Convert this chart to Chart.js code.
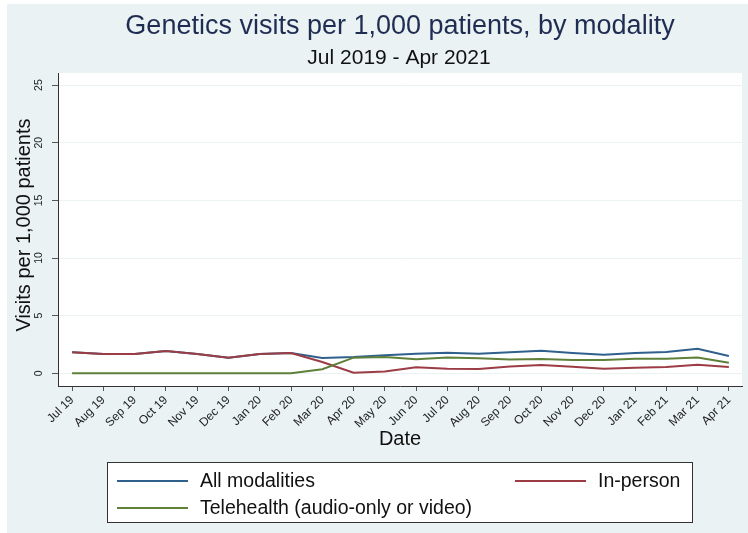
<!DOCTYPE html>
<html>
<head>
<meta charset="utf-8">
<title>Genetics visits per 1,000 patients</title>
<script src="https://cdn.jsdelivr.net/npm/chart.js@4/dist/chart.umd.min.js"></script>
<style>
  html, body { margin: 0; padding: 0; background: #fff; }
  canvas { display: block; }
</style>
</head>
<body>
<canvas id="chartVisitas" width="748" height="533"></canvas>
<script>
const months = ['Jul 19','Aug 19','Sep 19','Oct 19','Nov 19','Dec 19','Jan 20','Feb 20','Mar 20','Apr 20','May 20',
    'Jun 20','Jul 20','Aug 20','Sep 20','Oct 20','Nov 20','Dec 20','Jan 21','Feb 21','Mar 21','Apr 21']
const allModalities = [1.82,1.67,1.67,1.93,1.67,1.35,1.67,1.76,1.33,1.41,1.56,1.70,1.79,1.70,1.82,1.96,1.76,1.61,1.76,1.85,2.13,1.50]
const inPerson = [1.82,1.67,1.67,1.93,1.67,1.35,1.67,1.76,0.98,0.05,0.15,0.52,0.40,0.37,0.60,0.72,0.58,0.40,0.49,0.55,0.75,0.55]
const telehealth = [0,0,0,0,0,0,0,0,0.35,1.36,1.41,1.21,1.38,1.30,1.19,1.24,1.15,1.15,1.27,1.27,1.38,0.92]
const yTicks = [0, 5, 10, 15, 20, 25]

const FONT = "'Liberation Sans', Arial, sans-serif"
const BG = '#eaf2f3'

const canvas = document.getElementById('chartVisitas')
const context = canvas.getContext('2d')

// fondo estilo stata + titulos, ticks del eje y y leyenda
const stataPlugin = {
    id: 'stata',
    beforeDraw(chart) {
        const ctx = chart.ctx
        const a = chart.chartArea
        ctx.save()
        ctx.fillStyle = BG
        ctx.fillRect(7, 4, chart.width - 7, chart.height - 4)
        ctx.fillStyle = '#fff'
        ctx.fillRect(a.left, a.top, a.right - a.left, a.bottom - a.top)
        ctx.restore()
    },
    afterDraw(chart) {
        const ctx = chart.ctx
        const y = chart.scales.y
        ctx.save()
        ctx.textAlign = 'center'
        ctx.textBaseline = 'alphabetic'
        ctx.fillStyle = '#1f2d52'
        ctx.font = `27px ${FONT}`
        ctx.fillText('Genetics visits per 1,000 patients, by modality', 400, 34)
        ctx.fillStyle = '#111'
        ctx.font = `21px ${FONT}`
        ctx.fillText('Jul 2019 - Apr 2021', 399, 64)

        // titulo del eje y
        ctx.save()
        ctx.font = `20px ${FONT}`
        ctx.textBaseline = 'middle'
        ctx.translate(24, 225)
        ctx.rotate(-Math.PI / 2)
        ctx.fillText('Visits per 1,000 patients', 0, 0)
        ctx.restore()

        // etiquetas del eje y, giradas
        ctx.font = `10.5px ${FONT}`
        ctx.fillStyle = '#222'
        ctx.textBaseline = 'middle'
        y.ticks.forEach(t => {
            const py = y.getPixelForValue(t.value)
            ctx.save()
            ctx.translate(39.5, py)
            ctx.rotate(-Math.PI / 2)
            ctx.fillText(String(t.value), 0, 0)
            ctx.restore()
        })

        // leyenda
        const lx = 107.5, ly = 462.5, lw = 585, lh = 60
        ctx.fillStyle = '#fff'
        ctx.fillRect(lx, ly, lw, lh)
        ctx.strokeStyle = '#333'
        ctx.lineWidth = 1
        ctx.strokeRect(lx, ly, lw, lh)
        const items = [
            { ds: 0, x: 117, y: 481 },
            { ds: 1, x: 515, y: 481 },
            { ds: 2, x: 117, y: 508 }
        ]
        ctx.font = `19.5px ${FONT}`
        ctx.textAlign = 'left'
        items.forEach(it => {
            const ds = chart.data.datasets[it.ds]
            ctx.strokeStyle = ds.borderColor
            ctx.lineWidth = 2
            ctx.beginPath()
            ctx.moveTo(it.x, it.y)
            ctx.lineTo(it.x + 71, it.y)
            ctx.stroke()
            ctx.fillStyle = '#111'
            ctx.fillText(ds.label, it.x + 83, it.y + 1)
        })
        ctx.restore()
    }
}

const chartVisitas = new Chart(context, {
    type: 'line',
    data: {
        labels: months.map((m, i) => i),
        datasets: [
            { label: 'All modalities', data: allModalities, borderColor: '#30608c', order: 3 },
            { label: 'In-person', data: inPerson, borderColor: '#9c3c45', order: 2 },
            { label: 'Telehealth (audio-only or video)', data: telehealth, borderColor: '#5e8039', order: 1 }
        ]
    },
    options: {
        responsive: false,
        animation: false,
        layout: { padding: { top: 73, left: 0, right: 6, bottom: 80 } },
        elements: {
            line: { borderWidth: 2, tension: 0, fill: false },
            point: { radius: 0 }
        },
        plugins: {
            legend: { display: false },
            tooltip: { enabled: false }
        },
        scales: {
            x: {
                type: 'linear',
                min: -0.45,
                max: 21.42,
                afterBuildTicks: s => { s.ticks = months.map((m, i) => ({ value: i })) },
                afterFit: s => { s.height = 67 },
                ticks: {
                    callback: v => months[v],
                    minRotation: 45,
                    maxRotation: 45,
                    autoSkip: false,
                    padding: 2,
                    color: '#222',
                    font: { family: FONT, size: 12 }
                },
                grid: { drawOnChartArea: false, drawTicks: true, tickLength: 5, tickColor: '#555' },
                border: { color: '#333', width: 1 },
                title: {
                    display: true,
                    text: 'Date',
                    color: '#111',
                    font: { family: FONT, size: 20 },
                    padding: { top: 0, bottom: 2 }
                }
            },
            y: {
                min: -1.1,
                max: 26.05,
                afterBuildTicks: s => { s.ticks = yTicks.map(v => ({ value: v })) },
                afterFit: s => { s.width = 58 },
                ticks: { color: 'rgba(0,0,0,0)', font: { family: FONT, size: 10 } },
                grid: { color: BG, lineWidth: 1, drawTicks: true, tickLength: 6, tickColor: '#555' },
                border: { color: '#333', width: 1 },
                title: { display: false }
            }
        }
    },
    plugins: [stataPlugin]
})
</script>
</body>
</html>
